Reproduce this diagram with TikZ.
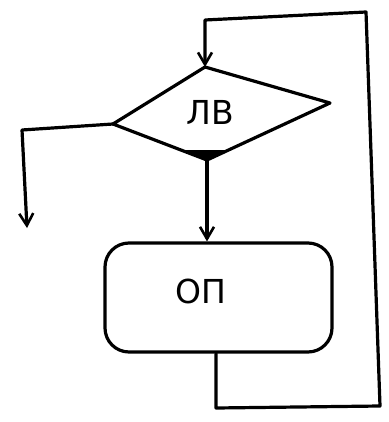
\documentclass[tikz,border=0pt]{standalone}
\usepackage{fontspec}
\setmainfont{DejaVu Sans}
\usetikzlibrary{arrows.meta}
\begin{document}
\begin{tikzpicture}[x=1pt,y=-1pt, line width=3.2pt, line join=round, line cap=round,
  arr/.style={-{Straight Barb[length=12pt,width=14pt,line width=2.6pt]}},
  lbl/.style={font=\fontsize{33}{40}\selectfont, inner sep=0pt},
  proc/.style={draw, rounded corners=24pt, minimum width=227pt, minimum height=109pt, inner sep=0pt}]
\useasboundingbox (0,0) rectangle (388,422);
% decision diamond
\coordinate (dt) at (205,67);
\coordinate (dl) at (113,124);
\coordinate (dr) at (330,103);
\coordinate (db) at (207,160);
\fill (181,150) -- (229,150) -- (db) -- cycle;
\draw (dt) -- (dr) -- (db) -- (dl) -- cycle;
\node[lbl] (lv) at (210,112) {ЛВ};
% process box
\node[proc] (op) at (218.5,297.5) {};
\node[lbl] (opt) at (201,291) {ОП};
% connectors
\draw[arr] (db) -- (db |- op.north);
\coordinate (lp1) at (216,408);
\coordinate (lp2) at (380,406);
\coordinate (lp3) at (366,12);
\coordinate (lp4) at (205,20);
\draw[arr] (op.south -| lp1) -- (lp1) -- (lp2) -- (lp3) -- (lp4) -- (dt);
\coordinate (ex1) at (22,130);
\coordinate (ex2) at (27,228);
\draw[arr] (dl) -- (ex1) -- (ex2);
\end{tikzpicture}
\end{document}
